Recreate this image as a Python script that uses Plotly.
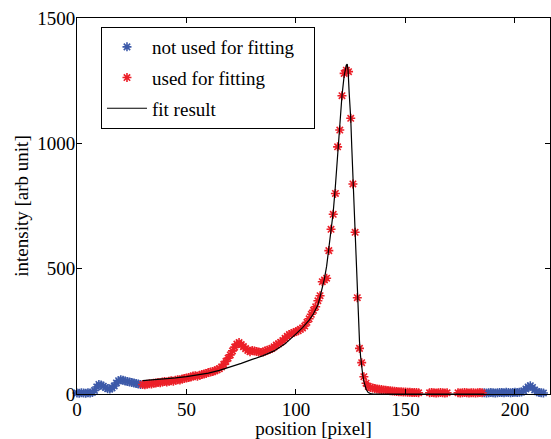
import plotly.graph_objects as go

# ---------------- data ----------------
# not used for fitting (left part)
blue_left_pos = list(range(0, 30))
blue_left_val = [4, 3, 5, 4, 3, 5, 4, 6, 14, 28, 38, 36, 31, 26, 21, 20, 24, 32, 44, 53,
                 57, 55, 52, 50, 48, 46, 44, 42, 40, 38]

# used for fitting
red_pos_a = list(range(30, 157))
red_val_a = [38, 37, 39, 41, 40, 43, 44, 46, 45, 48,          # 30-39
             50, 48, 51, 53, 51, 55, 57, 56, 60, 62,          # 40-49
             64, 66, 68, 72, 73, 71, 75, 78, 80, 82,          # 50-59
             86, 88, 90, 93, 97, 101, 108, 118, 130, 143,     # 60-69
             156, 172, 187, 199, 205, 197, 189, 181, 174, 169,  # 70-79
             174, 172, 170, 168, 166, 168, 172, 175, 178, 182,  # 80-89
             188, 195, 200, 206, 213, 222, 230, 237, 241, 245,  # 90-99
             249, 252, 258, 263, 271, 286, 300, 318, 334, 348,  # 100-109
             372, 392, 448, 455, 462, 572, 657, 717, 800, 986,  # 110-119
             1053, 1190, 1279, 1292, 1286, 1100, 838, 645, 384, 182,  # 120-129
             125, 69, 43, 30, 26, 24, 22, 20, 19, 18,          # 130-139
             16, 15, 14, 13, 12, 11, 10, 9, 9, 8,              # 140-149
             8, 7, 7, 6, 6, 6, 5]                              # 150-156
red_pos_b = list(range(161, 170))
red_val_b = [5, 6, 5, 4, 5, 6, 5, 4, 5]
red_pos_c = list(range(174, 186))
red_val_c = [5, 4, 5, 6, 5, 4, 5, 5, 4, 5, 6, 5]

# not used for fitting (right part)
blue_right_pos = list(range(186, 214))
blue_right_val = [5, 4, 5, 6, 5, 4, 5, 6, 6, 5, 7, 6, 5, 6, 7, 6, 7, 8, 12, 20,
                  28, 33, 26, 16, 9, 6, 5, 4]

# fit result
fit_pos = [30, 35, 40, 45, 50, 55, 60, 65, 70, 75, 80, 85, 90, 95, 100, 103, 106, 108,
           109, 110, 111, 112, 113, 114, 115, 116, 117, 118, 119, 120, 121, 122, 122.5,
           123, 123.4, 123.8, 124.3, 125, 125.5, 126, 126.5, 127, 127.5, 128, 128.5, 129,
           129.5, 130, 130.5, 131, 131.5, 132, 132.5, 133, 134, 135, 140, 186]
fit_val = [53, 56, 60, 64, 69, 75, 83, 94, 107, 122, 138, 153, 172, 200, 240, 265, 295, 320,
           338, 355, 388, 420, 460, 510, 575, 650, 725, 830, 950, 1075, 1190, 1270, 1300,
           1312, 1316, 1290, 1200, 1100, 980, 860, 745, 640, 520, 400, 300, 210,
           150, 105, 75, 50, 33, 20, 12, 6, 2, 1, 0, 0]

blue_pos = blue_left_pos + [None] + blue_right_pos
blue_val = blue_left_val + [None] + blue_right_val
red_pos = red_pos_a + [None] + red_pos_b + [None] + red_pos_c
red_val = red_val_a + [None] + red_val_b + [None] + red_val_c

x_ticks = [0, 50, 100, 150, 200]
y_ticks = [0, 500, 1000, 1500]

BLUE = "#3d5aa9"
RED = "#ec1f28"
FONT = "Liberation Serif"
PAD = "\u00a0\u00a0\u00a0"

fig = go.Figure()
fig.add_trace(go.Scatter(
    x=blue_pos, y=blue_val, mode="markers", name="not used for fitting" + PAD,
    legendgroup="a", cliponaxis=False,
    marker=dict(symbol="asterisk-open", size=7.5, color=BLUE,
                line=dict(color=BLUE, width=1.6)),
))
fig.add_trace(go.Scatter(
    x=red_pos, y=red_val, mode="markers", name="used for fitting",
    legendgroup="b", cliponaxis=False,
    marker=dict(symbol="asterisk-open", size=7.5, color=RED,
                line=dict(color=RED, width=1.6)),
))
fig.add_trace(go.Scatter(
    x=fit_pos, y=fit_val, mode="lines", name="fit result",
    legendgroup="c",
    line=dict(color="black", width=1.2),
))

axis_common = dict(
    showline=True, linecolor="black", linewidth=1, mirror="ticks",
    ticks="inside", ticklen=5, tickcolor="black", tickwidth=1,
    showgrid=False, zeroline=False,
    tickfont=dict(family=FONT, size=19, color="black"),
)

fig.update_layout(
    width=551, height=439,
    margin=dict(l=77, r=1, t=18, b=45),
    paper_bgcolor="white", plot_bgcolor="white",
    font=dict(family=FONT, color="black"),
    xaxis=dict(range=[0, 216], tickvals=x_ticks, automargin=False,
               ticklabelstandoff=-2,
               title=dict(text="position [pixel]", font=dict(family=FONT, size=19)),
               **axis_common),
    yaxis=dict(range=[0, 1500], tickvals=y_ticks, automargin=True,
               ticklabelstandoff=-3,
               title=dict(text="intensity [arb unit]", font=dict(family=FONT, size=19),
                          standoff=3),
               **axis_common),
    showlegend=True,
    legend=dict(x=0.0507, y=0.976, xanchor="left", yanchor="top",
                bgcolor="white", bordercolor="black", borderwidth=1,
                font=dict(family=FONT, size=19, color="black"),
                tracegroupgap=3, itemwidth=40),
)

fig.write_html("out.html", config={"displayModeBar": False},
               post_script="document.body.style.margin='0';document.body.style.overflow='hidden';")
